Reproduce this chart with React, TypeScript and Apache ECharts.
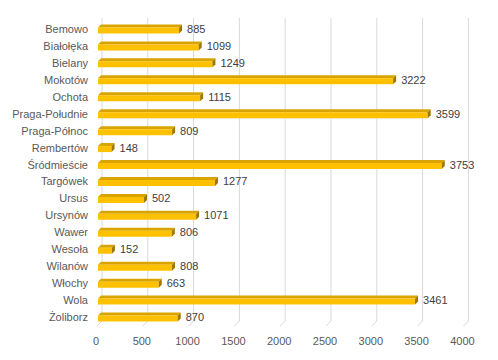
import React, { useEffect, useRef } from "react";
import * as echarts from "echarts";

const districts = [
  "Bemowo", "Białołęka", "Bielany", "Mokotów", "Ochota", "Praga-Południe",
  "Praga-Północ", "Rembertów", "Śródmieście", "Targówek", "Ursus", "Ursynów",
  "Wawer", "Wesoła", "Wilanów", "Włochy", "Wola", "Żoliborz",
];
const values = [885, 1099, 1249, 3222, 1115, 3599, 809, 148, 3753, 1277, 502, 1071, 806, 152, 808, 663, 3461, 870];
const xTicks = [0, 500, 1000, 1500, 2000, 2500, 3000, 3500, 4000];

const FONT = "Liberation Sans, Arial, sans-serif";

export default function App() {
  const ref = useRef<HTMLDivElement>(null);
  useEffect(() => {
    const chart = echarts.init(ref.current!, null, { renderer: "svg" });
    const D = 3;
    chart.setOption({
      animation: false,
      backgroundColor: "#ffffff",
      grid: { left: 99, right: 32.6, top: 20.5, bottom: 34.5, containLabel: false },
      xAxis: {
        type: "value",
        min: 0,
        max: 4000,
        interval: 500,
        axisLine: { show: false },
        axisTick: { show: false },
        splitLine: { show: false },
        axisLabel: {
          color: "#595959",
          fontFamily: FONT,
          fontSize: 11,
          margin: 10,
          padding: [0, 6, 0, 0],
          formatter: (v: number) => String(v),
        },
      },
      yAxis: {
        type: "category",
        inverse: true,
        data: districts,
        axisLine: { show: false },
        axisTick: { show: false },
        splitLine: { show: false },
        axisLabel: { color: "#595959", fontFamily: FONT, fontSize: 11, margin: 11 },
      },
      series: [
        {
          type: "custom",
          z: 1,
          silent: true,
          data: xTicks.map((t) => [t]),
          encode: { x: 0 },
          renderItem: (params: any, api: any) => {
            const cs = params.coordSys;
            const x = api.coord([api.value(0), 0])[0];
            const top = cs.y - 2.5;
            const bottom = cs.y + cs.height;
            return {
              type: "polyline",
              shape: {
                points: [
                  [x + D, top],
                  [x + D, bottom - 4.5],
                  [x - 2, bottom + 0.5],
                ],
              },
              style: { stroke: "#D9D9D9", lineWidth: 1, fill: "none" },
            };
          },
        },
        {
          type: "custom",
          z: 2,
          data: values.map((v, i) => [v, i]),
          encode: { x: 0, y: 1 },
          renderItem: (params: any, api: any) => {
            const v = api.value(0);
            const i = api.value(1);
            const p0 = api.coord([0, i]);
            const p1 = api.coord([v, i]);
            const x0 = p0[0] - 1;
            const x1 = p1[0] - 1;
            const c = p0[1];
            const ft = c - 1.5;
            const fb = c + 4.5;
            return {
              type: "group",
              children: [
                {
                  type: "polygon",
                  shape: { points: [[x0, ft], [x1, ft], [x1 + D, ft - D], [x0 + D, ft - D]] },
                  style: { fill: "#D9A400" },
                },
                {
                  type: "rect",
                  shape: { x: x0, y: ft, width: x1 - x0, height: fb - ft },
                  style: { fill: "#FFC000" },
                },
                {
                  type: "polygon",
                  shape: { points: [[x1, ft], [x1 + D, ft - D], [x1 + D, fb - D], [x1, fb]] },
                  style: { fill: "#A07800" },
                },
                {
                  type: "text",
                  x: x1 + D + 5,
                  y: c,
                  style: {
                    text: String(v),
                    fill: "#404040",
                    font: `11px ${FONT}`,
                    verticalAlign: "middle",
                    align: "left",
                  },
                },
              ],
            };
          },
        },
      ],
    });
    return () => chart.dispose();
  }, []);
  return (
    <div
      ref={ref}
      style={{ position: "fixed", left: 0, top: 0, width: 498, height: 360 }}
    />
  );
}
